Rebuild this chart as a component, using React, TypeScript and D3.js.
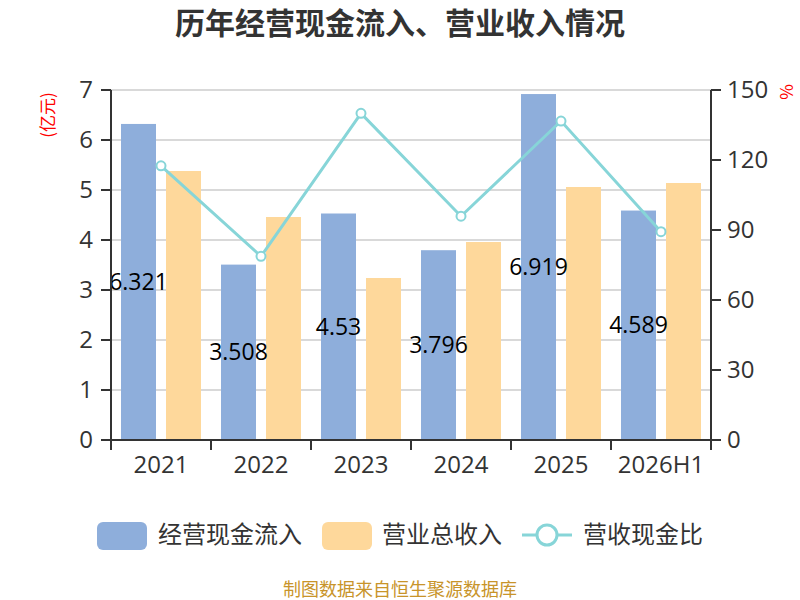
import * as React from 'react';
import {scaleBand, scaleLinear, line} from 'd3';

const categories = ['2021', '2022', '2023', '2024', '2025', '2026H1'];
const cashInflow = [6.321, 3.508, 4.53, 3.796, 6.919, 4.589];
const revenue = [5.38, 4.46, 3.24, 3.96, 5.06, 5.14];
const ratio = [117.5, 78.7, 140.0, 95.9, 136.7, 89.3];
const leftTicks = [0, 1, 2, 3, 4, 5, 6, 7];
const rightTicks = [0, 30, 60, 90, 120, 150];

const width = 800;
const height = 600;
const left = 111;
const right = 711;
const top = 90;
const bottom = 440;

const blue = '#8eaedb';
const orange = '#fed89b';
const teal = '#87d5d8';
const axisColor = '#333';
const cjk = '"Noto Sans CJK SC", "Open Sans", sans-serif';
const num = '"Open Sans", "Noto Sans", sans-serif';

const xScale = scaleBand<string>()
    .domain(categories)
    .range([left, right]);

const yLeft = scaleLinear().domain([0, 7]).range([bottom, top]);
const yRight = scaleLinear().domain([0, 150]).range([bottom, top]);

const barW = 35;
const gap = 10;
const barOffset = (xScale.bandwidth() - (barW * 2 + gap)) / 2;

const ratioLine = line<number>()
    .x((d, i) => (xScale(categories[i]) as number) + xScale.bandwidth() / 2)
    .y(d => yRight(d));

export default function App() {
    return (
        <svg width={width} height={height}
             style={{display: 'block', position: 'absolute', left: 0, top: 0}}>
            <rect width={width} height={height} fill="#fff"/>
            <text x={400} y={34} textAnchor="middle" fontFamily={cjk} fontWeight="bold"
                  fontSize={30} fill="#333">历年经营现金流入、营业收入情况</text>

            {/* grid */}
            {leftTicks.map(t => (
                <line key={'g' + t} x1={left} x2={right} y1={yLeft(t)} y2={yLeft(t)}
                      stroke="#ccc" strokeWidth={1.5}/>
            ))}

            {/* bars */}
            {categories.map((c, i) => {
                const x0 = (xScale(c) as number) + barOffset;
                return (
                    <g key={c}>
                        <rect x={x0} y={yLeft(cashInflow[i])} width={barW}
                              height={bottom - yLeft(cashInflow[i])} fill={blue}/>
                        <rect x={x0 + barW + gap} y={yLeft(revenue[i])} width={barW}
                              height={bottom - yLeft(revenue[i])} fill={orange}/>
                    </g>
                );
            })}

            {/* line */}
            <path d={ratioLine(ratio) || ''} fill="none" stroke={teal} strokeWidth={3}/>
            {ratio.map((r, i) => (
                <circle key={'c' + i}
                        cx={(xScale(categories[i]) as number) + xScale.bandwidth() / 2}
                        cy={yRight(r)} r={4.5} fill="#fff" stroke={teal} strokeWidth={2}/>
            ))}

            {/* bar labels */}
            {categories.map((c, i) => (
                <text key={'l' + c} x={(xScale(c) as number) + barOffset + barW / 2}
                      y={(yLeft(cashInflow[i]) + bottom) / 2} dy="0.35em" textAnchor="middle"
                      fontFamily={num} fontSize={23} fill="#000">{cashInflow[i]}</text>
            ))}

            {/* left axis */}
            <line x1={left} x2={left} y1={top} y2={bottom} stroke={axisColor} strokeWidth={2}/>
            {leftTicks.map(t => (
                <g key={'lt' + t}>
                    <line x1={left - 10} x2={left} y1={yLeft(t)} y2={yLeft(t)} stroke={axisColor} strokeWidth={2}/>
                    <text x={left - 18} y={yLeft(t)} dy="0.35em" textAnchor="end"
                          fontFamily={num} fontSize={24} fill={axisColor}>{t}</text>
                </g>
            ))}
            <text transform={`translate(48,115) rotate(-90)`} textAnchor="middle" dy="0.35em"
                  fontFamily={cjk} fontSize={17} fill="#f00">(亿元)</text>

            {/* right axis */}
            <line x1={right} x2={right} y1={top} y2={bottom} stroke={axisColor} strokeWidth={2}/>
            {rightTicks.map(t => (
                <g key={'rt' + t}>
                    <line x1={right} x2={right + 10} y1={yRight(t)} y2={yRight(t)} stroke={axisColor} strokeWidth={2}/>
                    <text x={right + 16} y={yRight(t)} dy="0.35em" textAnchor="start"
                          fontFamily={num} fontSize={24} fill={axisColor}>{t}</text>
                </g>
            ))}
            <text transform={`translate(787,92) rotate(-90)`} textAnchor="middle" dy="0.35em"
                  fontFamily={cjk} fontSize={17} fill="#f00">%</text>

            {/* x axis */}
            <line x1={left} x2={right} y1={bottom} y2={bottom} stroke={axisColor} strokeWidth={2}/>
            {categories.concat(['end']).map((c, i) => {
                const x = left + i * xScale.bandwidth();
                return <line key={'xt' + c} x1={x} x2={x} y1={bottom} y2={bottom + 10}
                             stroke={axisColor} strokeWidth={2}/>;
            })}
            {categories.map(c => (
                <text key={'xl' + c} x={(xScale(c) as number) + xScale.bandwidth() / 2} y={465}
                      dy="0.35em" textAnchor="middle" fontFamily={num} fontSize={24}
                      fill={axisColor}>{c}</text>
            ))}

            {/* legend */}
            <g fontFamily={cjk} fontSize={24} fill={axisColor}>
                <rect x={97} y={522} width={50} height={28} rx={6} fill={blue}/>
                <text x={158} y={535} dy="0.35em">经营现金流入</text>
                <rect x={322} y={522} width={50} height={28} rx={6} fill={orange}/>
                <text x={382} y={535} dy="0.35em">营业总收入</text>
                <line x1={522} x2={572} y1={535} y2={535} stroke={teal} strokeWidth={3}/>
                <circle cx={547} cy={535} r={10} fill="#fff" stroke={teal} strokeWidth={3}/>
                <text x={583} y={535} dy="0.35em">营收现金比</text>
            </g>

            <text x={400} y={590} dy="0.35em" textAnchor="middle" fontFamily={cjk} fontSize={18}
                  fill="#c8942a">制图数据来自恒生聚源数据库</text>
        </svg>
    );
}
